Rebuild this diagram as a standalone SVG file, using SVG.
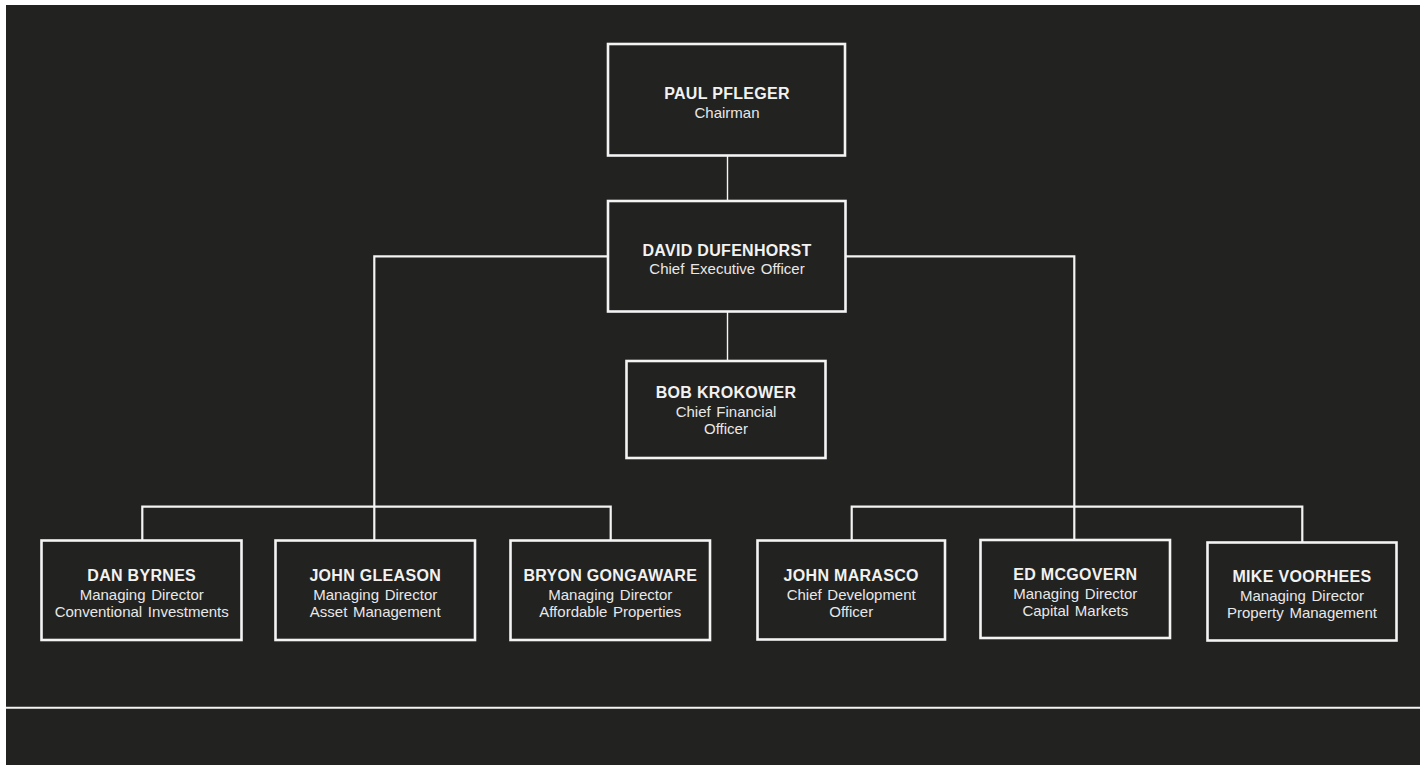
<svg xmlns="http://www.w3.org/2000/svg" width="1420" height="765" viewBox="0 0 1420 765">
<style>
.box{fill:#222220;stroke:#f4f4f4;stroke-width:2.6}
.conn{fill:none;stroke:#f4f4f4;stroke-width:2.2}
.thin{fill:none;stroke:#f4f4f4;stroke-width:1.4}
.name{font-family:"Liberation Sans",Arial,sans-serif;font-weight:bold;font-size:16px;fill:#f2f2f2;text-anchor:middle;letter-spacing:0.3px}
.sub{font-family:"Liberation Sans",Arial,sans-serif;font-size:15px;fill:#e8e8e8;text-anchor:middle;word-spacing:1.5px}
</style>
<rect x="0" y="0" width="1420" height="765" fill="#ffffff"/>
<rect x="6" y="5" width="1414" height="760" fill="#222220"/>
<line x1="6" y1="707.7" x2="1420" y2="707.7" stroke="#f4f4f4" stroke-width="2"/>
<g id="connectors">
<line class="thin" x1="727.5" y1="155.5" x2="727.5" y2="201"/>
<line class="thin" x1="727.5" y1="311.5" x2="727.5" y2="361"/>
<polyline class="conn" points="608,256.3 374.3,256.3 374.3,540.5"/>
<polyline class="conn" points="845.5,256.3 1074.3,256.3 1074.3,540"/>
<polyline class="conn" points="142.3,540.5 142.3,506.7 610.7,506.7 610.7,540.5"/>
<polyline class="conn" points="851.7,540.5 851.7,506.7 1302.3,506.7 1302.3,542.5"/>
</g>
<g id="paul">
<rect class="box" x="608" y="44" width="237" height="111.5"/>
<text class="name" x="727" y="99">PAUL PFLEGER</text>
<text class="sub" x="727" y="118">Chairman</text>
</g>
<g id="david">
<rect class="box" x="608" y="201" width="237.5" height="110.5"/>
<text class="name" x="727" y="256">DAVID DUFENHORST</text>
<text class="sub" x="727" y="274">Chief Executive Officer</text>
</g>
<g id="bob">
<rect class="box" x="626.5" y="361" width="199" height="97"/>
<text class="name" x="726" y="398.3">BOB KROKOWER</text>
<text class="sub" x="726" y="417">Chief Financial</text>
<text class="sub" x="726" y="434">Officer</text>
</g>
<g id="dan">
<rect class="box" x="41.5" y="540.5" width="200" height="99.5"/>
<text class="name" x="141.7" y="580.7">DAN BYRNES</text>
<text class="sub" x="141.7" y="599.5">Managing Director</text>
<text class="sub" x="141.7" y="616.5">Conventional Investments</text>
</g>
<g id="gleason">
<rect class="box" x="275.5" y="540.5" width="199.5" height="99.5"/>
<text class="name" x="375.2" y="580.7">JOHN GLEASON</text>
<text class="sub" x="375.2" y="599.5">Managing Director</text>
<text class="sub" x="375.2" y="616.5">Asset Management</text>
</g>
<g id="bryon">
<rect class="box" x="510.5" y="540.5" width="199.5" height="99.5"/>
<text class="name" x="610.3" y="580.7">BRYON GONGAWARE</text>
<text class="sub" x="610.3" y="599.5">Managing Director</text>
<text class="sub" x="610.3" y="616.5">Affordable Properties</text>
</g>
<g id="marasco">
<rect class="box" x="757.5" y="540.5" width="187.5" height="99"/>
<text class="name" x="851.2" y="580.7">JOHN MARASCO</text>
<text class="sub" x="851.2" y="599.5">Chief Development</text>
<text class="sub" x="851.2" y="616.5">Officer</text>
</g>
<g id="mcgovern">
<rect class="box" x="980.5" y="540" width="189.5" height="98"/>
<text class="name" x="1075.3" y="580">ED MCGOVERN</text>
<text class="sub" x="1075.3" y="599">Managing Director</text>
<text class="sub" x="1075.3" y="615.7">Capital Markets</text>
</g>
<g id="voorhees">
<rect class="box" x="1207.5" y="542.5" width="189" height="98"/>
<text class="name" x="1302" y="582.3">MIKE VOORHEES</text>
<text class="sub" x="1302" y="601">Managing Director</text>
<text class="sub" x="1302" y="618.3">Property Management</text>
</g>
</svg>
